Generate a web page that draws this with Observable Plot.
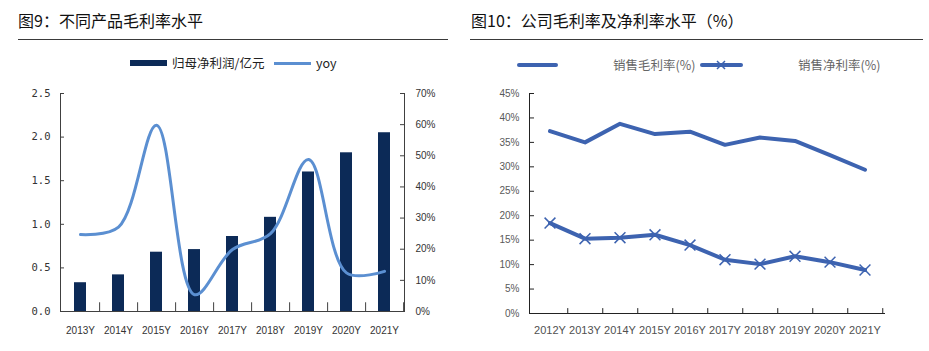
<!DOCTYPE html>
<html><head><meta charset="utf-8">
<script src="https://cdn.jsdelivr.net/npm/d3@7"></script>
<script src="https://cdn.jsdelivr.net/npm/@observablehq/plot@0.6"></script>
<style>
body{margin:0;background:#fff;font-family:"Noto Sans CJK SC","Noto Sans",sans-serif;}
#wrap{position:relative;width:929px;height:351px;overflow:hidden;background:#fff;}
.title{position:absolute;font-size:16px;line-height:18px;color:#111;top:11px;white-space:nowrap;}
.rule{position:absolute;height:0;border-top:1.5px solid #3a3a3a;top:39px;}
.leg{position:absolute;font-size:12.5px;line-height:16px;white-space:nowrap;}
.sw{position:absolute;}
.chart{position:absolute;top:85px;}
</style></head><body>
<div id="wrap">
 <div class="title" style="left:18px">图9：不同产品毛利率水平</div>
 <div class="rule" style="left:18px;width:430px"></div>
 <div class="title" style="left:471px">图10：公司毛利率及净利率水平（%）</div>
 <div class="rule" style="left:470px;width:453px"></div>

 <div class="sw" style="left:130px;top:60px;width:37px;height:6px;background:#0c2a57"></div>
 <div class="leg" style="left:172px;top:55px;color:#222">归母净利润/亿元</div>
 <div class="sw" style="left:274px;top:62px;width:37px;height:2.5px;background:#5b8fd1"></div>
 <div class="leg" style="left:316px;top:55px;color:#222">yoy</div>

 <div class="sw" style="left:517px;top:63px;width:41px;height:4px;border-radius:2px;background:#3d63b0"></div>
 <div class="leg" style="left:613px;top:57px;color:#666">销售毛利率(%)</div>
 <svg class="sw" style="left:700px;top:58px" width="43" height="14"><line x1="2" y1="7" x2="41" y2="7" stroke="#3d63b0" stroke-width="4" stroke-linecap="round"/><path d="M17,3 L25,11 M25,3 L17,11" stroke="#3d63b0" stroke-width="1.5"/></svg>
 <div class="leg" style="left:798px;top:57px;color:#666">销售净利率(%)</div>

 <div id="c1" class="chart" style="left:0"></div>
 <div id="c2" class="chart" style="left:465px"></div>
</div>
<script>
// ---- Chart 1 data ----
const years1 = ["2013Y","2014Y","2015Y","2016Y","2017Y","2018Y","2019Y","2020Y","2021Y"];
const profit = [0.33,0.42,0.68,0.71,0.86,1.08,1.60,1.82,2.05];
const yoy = [24.7,27.1,59.8,5.4,19.9,25.0,48.8,12.4,12.9];
const leftTicks = [0,0.5,1.0,1.5,2.0,2.5];
const rightTicks = [0,10,20,30,40,50,60,70];

// ---- Chart 2 data ----
const years2 = ["2012Y","2013Y","2014Y","2015Y","2016Y","2017Y","2018Y","2019Y","2020Y","2021Y"];
const gross = [37.3,35.0,38.8,36.7,37.2,34.5,36.0,35.3,32.4,29.4];
const net = [18.5,15.3,15.5,16.1,14.0,11.0,10.1,11.7,10.5,8.9];
const pctTicks = [0,5,10,15,20,25,30,35,40,45];

const yMax1 = 2.5, yoyMax = 70;
const rows1 = years1.map((y,i)=>({year:y, profit:profit[i], yoyS: yoy[i]/yoyMax*yMax1}));

const W1 = 465, ML1 = 60, MR1 = 61;
const step1 = (W1-ML1-MR1)/years1.length;
const axisColor = "#404040";

const p1 = Plot.plot({
  width: W1, height: 260, marginTop: 8, marginLeft: ML1, marginRight: MR1, marginBottom: 34,
  style: {fontFamily: "Liberation Sans, Arial, sans-serif", fontSize: "10px", color: "#333", background: "transparent", overflow: "visible"},
  x: {type: "band", domain: years1, paddingInner: 0.68, paddingOuter: 0.34, axis: null},
  y: {domain: [0, yMax1], axis: null},
  marks: [
    Plot.barY(rows1, {x: "year", y: "profit", fill: "#0c2a57"}),
    Plot.line(rows1, {x: "year", y: "yoyS", stroke: "#5b8fd1", strokeWidth: 3, curve: "catmull-rom"}),
    Plot.frame({anchor: "left", stroke: axisColor}),
    Plot.frame({anchor: "right", stroke: axisColor}),
    Plot.frame({anchor: "bottom", stroke: axisColor}),
    Plot.axisY({anchor: "left", ticks: leftTicks, tickFormat: d3.format(".1f"), tickSize: -4, tickPadding: 14, label: null,
      fontFamily: "DejaVu Sans Mono, monospace", fontSize: 10.5, stroke: axisColor, fill: "#333"}),
    Plot.axisY({anchor: "right", ticks: rightTicks.map(v => v/yoyMax*yMax1), label: null,
      tickFormat: d => Math.round(d/yMax1*yoyMax) + "%", tickSize: -5, tickPadding: 16, fontSize: 10, stroke: axisColor, fill: "#333"}),
    Plot.axisX({tickSize: 0, tickPadding: 15, fontSize: 10, fill: "#333", letterSpacing: "-0.5px", label: null}),
    Plot.ruleX(years1, {x: d => d, dx: step1/2, y1: 0, y2: 0.1, stroke: axisColor})
  ]
});
document.getElementById("c1").appendChild(p1);

const rows2 = years2.map((y,i)=>({year:y, gross:gross[i], net:net[i]}));
const W2 = 464, ML2 = 64, MR2 = 45;
const step2 = (W2-ML2-MR2)/years2.length;
const lineColor = "#3d63b0";

const p2 = Plot.plot({
  width: W2, height: 260, marginTop: 8, marginLeft: ML2, marginRight: MR2, marginBottom: 32,
  style: {fontFamily: "Liberation Sans, Arial, sans-serif", fontSize: "10px", color: "#595959", background: "transparent", overflow: "visible"},
  x: {type: "band", domain: years2, padding: 0, axis: null},
  y: {domain: [0, 45], axis: null},
  marks: [
    Plot.frame({anchor: "left", stroke: "#222"}),
    Plot.frame({anchor: "bottom", stroke: "#222"}),
    Plot.axisY({anchor: "left", ticks: pctTicks, tickFormat: d => d + "%", tickSize: -5, tickPadding: 15, fontSize: 10, stroke: "#222", fill: "#595959", label: null}),
    Plot.axisX({tickSize: 0, tickPadding: 13, fontSize: 11, fill: "#505050", label: null}),
    Plot.ruleX(years2, {x: d => d, dx: step2/2, y1: 0, y2: 1, stroke: "#222"}),
    Plot.line(rows2, {x: "year", y: "gross", stroke: lineColor, strokeWidth: 4, strokeLinejoin: "round", strokeLinecap: "round"}),
    Plot.line(rows2, {x: "year", y: "net", stroke: lineColor, strokeWidth: 4, strokeLinejoin: "round", strokeLinecap: "round"}),
    Plot.dot(rows2, {x: "year", y: "net", symbol: "times", r: 5, stroke: lineColor, strokeWidth: 1.5})
  ]
});
document.getElementById("c2").appendChild(p2);
</script>
</body></html>
